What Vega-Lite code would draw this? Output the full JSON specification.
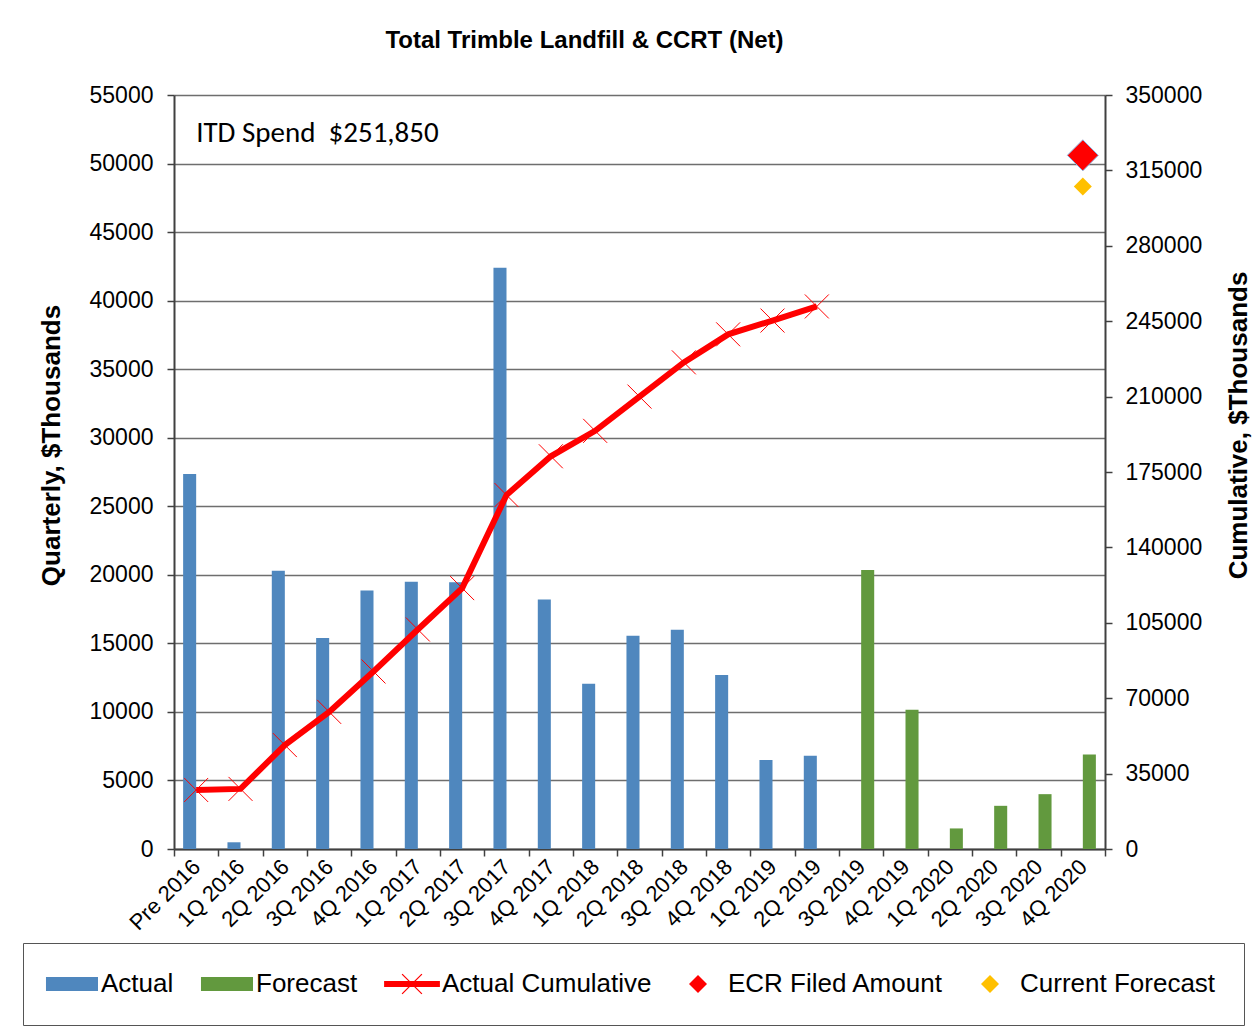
{
  "$schema": "https://vega.github.io/schema/vega-lite/v6.json",
  "width": 931,
  "height": 754,
  "autosize": {"type": "none"},
  "padding": {"left": 174, "top": 95, "right": 147, "bottom": 182},
  "background": "white",
  "config": {
    "view": {"stroke": null},
    "font": "Liberation Sans",
    "axis": {"labelColor": "black", "titleColor": "black", "labelFont": "Liberation Sans", "titleFont": "Liberation Sans"}
  },
  "title": {
    "text": "Total Trimble Landfill & CCRT (Net)",
    "font": "Liberation Sans",
    "fontSize": 24,
    "fontWeight": "bold",
    "color": "black",
    "anchor": "middle",
    "frame": "group",
    "dx": -55,
    "offset": 31
  },
  "datasets": {
    "bars": [
      {"cat": "Pre 2016", "series": "Actual", "q": 27350},
      {"cat": "1Q 2016", "series": "Actual", "q": 490},
      {"cat": "2Q 2016", "series": "Actual", "q": 20300},
      {"cat": "3Q 2016", "series": "Actual", "q": 15400},
      {"cat": "4Q 2016", "series": "Actual", "q": 18850},
      {"cat": "1Q 2017", "series": "Actual", "q": 19500},
      {"cat": "2Q 2017", "series": "Actual", "q": 19450},
      {"cat": "3Q 2017", "series": "Actual", "q": 42400},
      {"cat": "4Q 2017", "series": "Actual", "q": 18200},
      {"cat": "1Q 2018", "series": "Actual", "q": 12050},
      {"cat": "2Q 2018", "series": "Actual", "q": 15550},
      {"cat": "3Q 2018", "series": "Actual", "q": 16000},
      {"cat": "4Q 2018", "series": "Actual", "q": 12700},
      {"cat": "1Q 2019", "series": "Actual", "q": 6500},
      {"cat": "2Q 2019", "series": "Actual", "q": 6800},
      {"cat": "3Q 2019", "series": "Forecast", "q": 20350},
      {"cat": "4Q 2019", "series": "Forecast", "q": 10150},
      {"cat": "1Q 2020", "series": "Forecast", "q": 1500},
      {"cat": "2Q 2020", "series": "Forecast", "q": 3150},
      {"cat": "3Q 2020", "series": "Forecast", "q": 4000},
      {"cat": "4Q 2020", "series": "Forecast", "q": 6900}
    ],
    "cum": [
      {"cat": "Pre 2016", "v": 27400},
      {"cat": "1Q 2016", "v": 27900},
      {"cat": "2Q 2016", "v": 48250},
      {"cat": "3Q 2016", "v": 63650},
      {"cat": "4Q 2016", "v": 82400},
      {"cat": "1Q 2017", "v": 101900},
      {"cat": "2Q 2017", "v": 121100},
      {"cat": "3Q 2017", "v": 164300},
      {"cat": "4Q 2017", "v": 182300},
      {"cat": "1Q 2018", "v": 194100},
      {"cat": "2Q 2018", "v": 210000},
      {"cat": "3Q 2018", "v": 225900},
      {"cat": "4Q 2018", "v": 238900},
      {"cat": "1Q 2019", "v": 245300},
      {"cat": "2Q 2019", "v": 251850}
    ],
    "pts": [
      {"cat": "4Q 2020", "series": "ECR Filed Amount", "v": 322000},
      {"cat": "4Q 2020", "series": "Current Forecast", "v": 307500}
    ],
    "note": [
      {"cat": "Pre 2016", "q": 52200, "label": "ITD Spend\u00a0 $251,850"}
    ]
  },
  "layer": [
    {
      "layer": [
        {
          "data": {"name": "bars"},
          "mark": {"type": "bar"},
          "encoding": {
            "x": {
              "field": "cat",
              "type": "nominal",
              "scale": {
                "domain": ["Pre 2016", "1Q 2016", "2Q 2016", "3Q 2016", "4Q 2016", "1Q 2017", "2Q 2017", "3Q 2017", "4Q 2017", "1Q 2018", "2Q 2018", "3Q 2018", "4Q 2018", "1Q 2019", "2Q 2019", "3Q 2019", "4Q 2019", "1Q 2020", "2Q 2020", "3Q 2020", "4Q 2020"],
                "paddingInner": 0,
                "paddingOuter": 0
              },
              "axis": {
                "title": null,
                "labelAngle": -45,
                "labelAlign": "right",
                "labelBaseline": "middle",
                "labelFontSize": 22,
                "labelPadding": 7,
                "tickBand": "extent",
                "tickSize": 7,
                "tickColor": "#404040",
                "tickWidth": 1.5,
                "domainColor": "#404040",
                "domainWidth": 2,
                "grid": false
              }
            },
            "xOffset": {
              "field": "series",
              "type": "nominal",
              "scale": {"domain": ["Actual", "Forecast"], "paddingInner": 0, "paddingOuter": 0.7}
            },
            "y": {
              "field": "q",
              "type": "quantitative",
              "scale": {"domain": [0, 55000], "nice": false},
              "axis": {
                "orient": "left",
                "title": "Quarterly, $Thousands",
                "values": [0, 5000, 10000, 15000, 20000, 25000, 30000, 35000, 40000, 45000, 50000, 55000],
                "format": "d",
                "labelFontSize": 23,
                "labelPadding": 14,
                "tickSize": 7,
                "tickColor": "#404040",
                "tickWidth": 1.5,
                "domainColor": "#404040",
                "domainWidth": 2,
                "grid": true,
                "gridColor": "#6E6E6E",
                "gridWidth": 1.3,
                "titleFontSize": 26,
                "titleFontWeight": "bold",
                "titleAngle": -90,
                "titleX": -123,
                "titleY": 350,
                "titleAlign": "center",
                "titleBaseline": "middle"
              }
            },
            "fill": {
              "field": "series",
              "type": "nominal",
              "scale": {"domain": ["Actual", "Forecast"], "range": ["#4F87BE", "#62993E"]},
              "legend": null
            }
          }
        },
        {
          "data": {"name": "note"},
          "mark": {"type": "text", "align": "left", "baseline": "middle", "font": "Carlito, Lato", "fontSize": 29, "color": "black"},
          "encoding": {
            "x": {"field": "cat", "type": "nominal"},
            "y": {"field": "q", "type": "quantitative"},
            "text": {"field": "label"}
          }
        }
      ]
    },
    {
      "layer": [
        {
          "data": {"name": "cum"},
          "mark": {"type": "line", "color": "#FF0000", "strokeWidth": 6},
          "encoding": {
            "x": {"field": "cat", "type": "nominal"},
            "y": {
              "field": "v",
              "type": "quantitative",
              "scale": {"domain": [0, 350000], "nice": false},
              "axis": {
                "orient": "right",
                "title": "Cumulative, $Thousands",
                "values": [0, 35000, 70000, 105000, 140000, 175000, 210000, 245000, 280000, 315000, 350000],
                "format": "d",
                "labelFontSize": 23,
                "labelPadding": 13,
                "tickSize": 7,
                "tickColor": "#404040",
                "tickWidth": 1.5,
                "domainColor": "#404040",
                "domainWidth": 2,
                "grid": false,
                "titleFontSize": 26,
                "titleFontWeight": "bold",
                "titleAngle": -90,
                "titleX": 133,
                "titleY": 330,
                "titleAlign": "center",
                "titleBaseline": "middle"
              }
            }
          }
        },
        {
          "data": {"name": "cum"},
          "mark": {"type": "point", "shape": "M-1,-1L1,1M-1,1L1,-1", "filled": false, "stroke": "#FF0000", "strokeWidth": 1, "size": 576, "opacity": 1},
          "encoding": {
            "x": {"field": "cat", "type": "nominal"},
            "y": {"field": "v", "type": "quantitative"}
          }
        },
        {
          "data": {"name": "pts"},
          "transform": [{"filter": "datum.series === 'ECR Filed Amount'"}],
          "mark": {"type": "point", "filled": true, "size": 961, "opacity": 1, "stroke": "#8DB4E2", "strokeWidth": 1},
          "encoding": {
            "x": {"field": "cat", "type": "nominal"},
            "y": {"field": "v", "type": "quantitative"},
            "color": {
              "field": "series",
              "type": "nominal",
              "scale": {
                "domain": ["Actual", "Forecast", "Actual Cumulative", "ECR Filed Amount", "Current Forecast"],
                "range": ["#4F87BE", "#62993E", "#FF0000", "#FF0000", "#FFC000"]
              },
              "legend": {
                "title": null, "orient": "none", "legendX": -151, "legendY": 848, "direction": "horizontal", "columns": 5,
                "padding": 28, "strokeColor": "#555555", "labelFontSize": 26, "labelFont": "Liberation Sans", "labelColor": "black",
                "labelLimit": 400, "symbolSize": 324, "symbolOffset": 7, "labelOffset": 17, "columnPadding": 26,
                "symbolStrokeWidth": 0, "symbolOpacity": 1
              }
            },
            "shape": {
              "field": "series",
              "type": "nominal",
              "scale": {
                "domain": ["Actual", "Forecast", "Actual Cumulative", "ECR Filed Amount", "Current Forecast"],
                "range": [
                  "M-2.78,-0.78H3V0.78H-2.78Z",
                  "M-2.78,-0.78H3V0.78H-2.78Z",
                  "M-3.1,-0.33H3.1V0.33H-3.1Z M-1.15,-1.05L-1.05,-1.15L1.15,1.05L1.05,1.15Z M-1.15,1.05L1.05,-1.15L1.15,-1.05L-1.05,1.15Z",
                  "diamond",
                  "diamond"
                ]
              },
              "legend": {
                "title": null, "orient": "none", "legendX": -151, "legendY": 848, "direction": "horizontal", "columns": 5,
                "padding": 28, "strokeColor": "#555555", "labelFontSize": 26, "labelFont": "Liberation Sans", "labelColor": "black",
                "labelLimit": 400, "symbolSize": 324, "symbolOffset": 7, "labelOffset": 17, "columnPadding": 26,
                "symbolStrokeWidth": 0, "symbolOpacity": 1
              }
            }
          }
        },
        {
          "data": {"name": "pts"},
          "transform": [{"filter": "datum.series === 'Current Forecast'"}],
          "mark": {"type": "point", "filled": true, "size": 324, "opacity": 1},
          "encoding": {
            "x": {"field": "cat", "type": "nominal"},
            "y": {"field": "v", "type": "quantitative"},
            "color": {
              "field": "series",
              "type": "nominal",
              "scale": {
                "domain": ["Actual", "Forecast", "Actual Cumulative", "ECR Filed Amount", "Current Forecast"],
                "range": ["#4F87BE", "#62993E", "#FF0000", "#FF0000", "#FFC000"]
              },
              "legend": {
                "title": null, "orient": "none", "legendX": -151, "legendY": 848, "direction": "horizontal", "columns": 5,
                "padding": 28, "strokeColor": "#555555", "labelFontSize": 26, "labelFont": "Liberation Sans", "labelColor": "black",
                "labelLimit": 400, "symbolSize": 324, "symbolOffset": 7, "labelOffset": 17, "columnPadding": 26,
                "symbolStrokeWidth": 0, "symbolOpacity": 1
              }
            },
            "shape": {
              "field": "series",
              "type": "nominal",
              "scale": {
                "domain": ["Actual", "Forecast", "Actual Cumulative", "ECR Filed Amount", "Current Forecast"],
                "range": [
                  "M-2.78,-0.78H3V0.78H-2.78Z",
                  "M-2.78,-0.78H3V0.78H-2.78Z",
                  "M-3.1,-0.33H3.1V0.33H-3.1Z M-1.15,-1.05L-1.05,-1.15L1.15,1.05L1.05,1.15Z M-1.15,1.05L1.05,-1.15L1.15,-1.05L-1.05,1.15Z",
                  "diamond",
                  "diamond"
                ]
              },
              "legend": {
                "title": null, "orient": "none", "legendX": -151, "legendY": 848, "direction": "horizontal", "columns": 5,
                "padding": 28, "strokeColor": "#555555", "labelFontSize": 26, "labelFont": "Liberation Sans", "labelColor": "black",
                "labelLimit": 400, "symbolSize": 324, "symbolOffset": 7, "labelOffset": 17, "columnPadding": 26,
                "symbolStrokeWidth": 0, "symbolOpacity": 1
              }
            }
          }
        }
      ]
    }
  ],
  "resolve": {"scale": {"y": "independent"}}
}
